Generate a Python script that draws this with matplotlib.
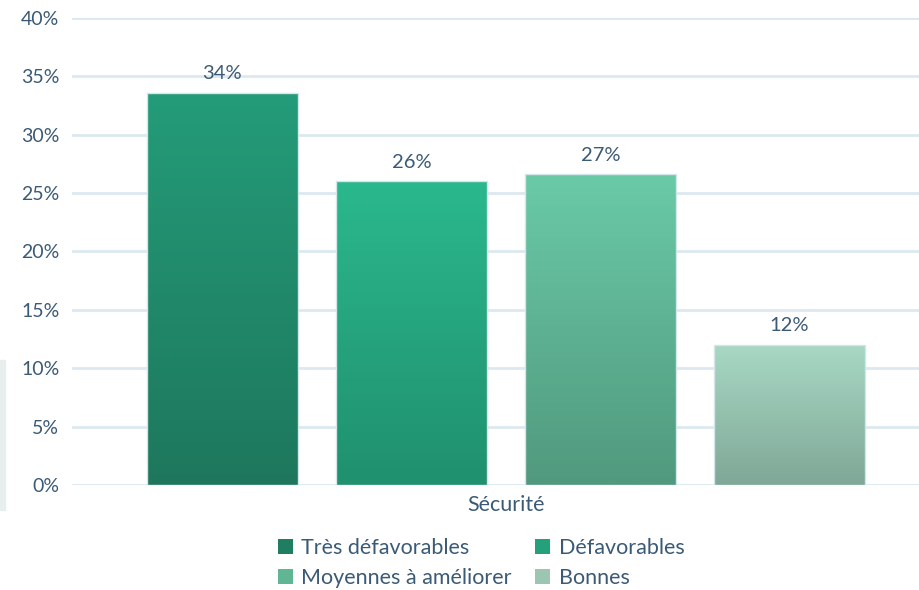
import numpy as np
import matplotlib
matplotlib.use('Agg')
import matplotlib.pyplot as plt
from matplotlib.colors import LinearSegmentedColormap
from matplotlib.patches import Patch, Rectangle

# data
categories = ['Très défavorables', 'Défavorables', 'Moyennes à améliorer', 'Bonnes']
values = [33.6, 26.0, 26.6, 12.0]
labels = ['34%', '26%', '27%', '12%']
yticks = [0, 5, 10, 15, 20, 25, 30, 35, 40]
xlabel = 'Sécurité'

# gradient colours (top, bottom)
tops = ['#249c79', '#2bb88d', '#6acaa7', '#a8d9c5']
bottoms = ['#1e775c', '#20906e', '#51997e', '#80a797']
legend_cols = ['#1f7d61', '#24a07b', '#60b594', '#9cc6b3']

txt = '#3b5a76'
plt.rcParams['font.family'] = ['Lato', 'DejaVu Sans']

fig = plt.figure(figsize=(9.2, 5.9), dpi=100)
ax = fig.add_axes([0.078, 0.178, 0.922, 0.7915])

x = np.arange(len(values))
bars = ax.bar(x, values, width=0.8, color='none', edgecolor='#d3e6ea', linewidth=1, zorder=3)

grad = np.linspace(1, 0, 256).reshape(-1, 1)
for i, b in enumerate(bars):
    cmap = LinearSegmentedColormap.from_list('g%d' % i, [bottoms[i], tops[i]])
    im = ax.imshow(grad, extent=[b.get_x(), b.get_x() + b.get_width(), 0, b.get_height()],
                   aspect='auto', cmap=cmap, vmin=0, vmax=1, zorder=2)
    im.set_clip_path(b)
    ax.text(b.get_x() + b.get_width() / 2, b.get_height() + 0.9, labels[i],
            ha='center', va='bottom', fontsize=14.5, color=txt)

ax.set_xlim(-0.796, 3.69)
ax.set_ylim(0, 40)
ax.set_yticks(yticks)
ax.set_yticklabels(['%d%%' % v for v in yticks])
ax.set_xticks([])
ax.yaxis.grid(True, color='#dde8f0', linewidth=2)
ax.set_axisbelow(True)
for s in ax.spines.values():
    s.set_visible(False)
ax.tick_params(axis='y', length=0, pad=9, labelsize=14, labelcolor=txt)

fig.text(0.55, 1 - 505 / 590, xlabel, ha='center', va='center', fontsize=15.5, color=txt)

# legend filled row by row: reorder for matplotlib's column-wise filling
order = [0, 2, 1, 3]
handles = [Patch(facecolor=legend_cols[i], edgecolor='none') for i in order]
fig.legend(handles, [categories[i] for i in order], loc='center',
           bbox_to_anchor=(0.523, 1 - 563 / 590),
           ncol=2, frameon=False, fontsize=15.5, labelcolor=txt,
           handlelength=0.7, handleheight=0.7, handletextpad=0.4,
           columnspacing=1.1, labelspacing=0.5)

# light strip at the left edge
fig.patches.append(Rectangle((0, 1 - 510 / 590), 5 / 920, 150 / 590,
                             transform=fig.transFigure, color='#e8eeee'))

plt.savefig('out.png', dpi=100)
